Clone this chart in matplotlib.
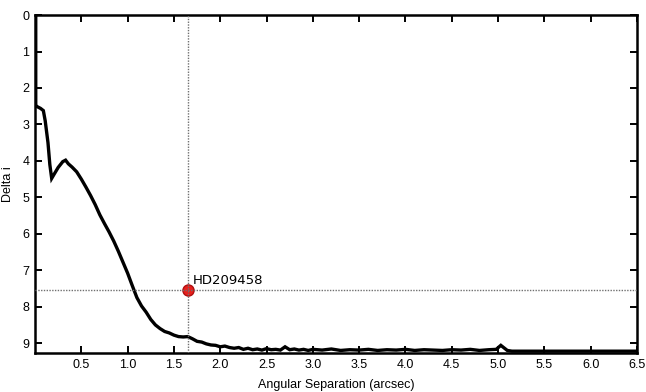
import matplotlib
matplotlib.use("Agg")
import matplotlib.pyplot as plt
import numpy as np

plt.rcParams['font.family'] = ['Liberation Sans', 'DejaVu Sans']

# contrast curve
sep = [0.008, 0.008, 0.012, 0.03, 0.06, 0.09, 0.11, 0.14, 0.16, 0.18, 0.21, 0.25,
       0.3, 0.33, 0.36, 0.4, 0.45, 0.5, 0.55, 0.6, 0.65, 0.7, 0.75, 0.8, 0.85,
       0.9, 0.95, 1.0, 1.05, 1.1, 1.15, 1.2, 1.25, 1.3, 1.35, 1.4, 1.45, 1.5,
       1.55, 1.6, 1.65, 1.7, 1.75, 1.8, 1.85, 1.9, 1.95, 2.0, 2.05, 2.1, 2.15,
       2.2, 2.25, 2.3, 2.35, 2.4, 2.45, 2.5, 2.55, 2.6, 2.65, 2.7, 2.75, 2.8,
       2.85, 2.9, 2.95, 3.0, 3.1, 3.2, 3.3, 3.4, 3.5, 3.6, 3.7, 3.8, 3.9, 4.0,
       4.1, 4.2, 4.3, 4.4, 4.5, 4.6, 4.7, 4.8, 4.9, 4.98, 5.03, 5.06, 5.1,
       5.15, 5.5, 6.0, 6.5]
delta = [0.0, 2.45, 2.5, 2.52, 2.56, 2.62, 2.9, 3.5, 4.1, 4.48, 4.35, 4.18,
         4.02, 3.98, 4.08, 4.17, 4.3, 4.5, 4.72, 4.95, 5.2, 5.48, 5.72, 5.95, 6.2,
         6.48, 6.78, 7.08, 7.42, 7.75, 7.98, 8.15, 8.35, 8.5, 8.6, 8.68, 8.72, 8.78,
         8.82, 8.83, 8.82, 8.88, 8.95, 8.97, 9.02, 9.05, 9.06, 9.1, 9.08, 9.12, 9.14,
         9.12, 9.17, 9.14, 9.18, 9.16, 9.19, 9.15, 9.18, 9.17, 9.19, 9.1, 9.18, 9.16,
         9.19, 9.17, 9.2, 9.17, 9.19, 9.16, 9.2, 9.18, 9.19, 9.17, 9.2, 9.18, 9.19, 9.17,
         9.2, 9.18, 9.19, 9.2, 9.18, 9.19, 9.17, 9.2, 9.18, 9.17, 9.06, 9.12, 9.2,
         9.22, 9.22, 9.22, 9.22]

star_sep = 1.65
star_delta = 7.55
star_name = "HD209458"

fig = plt.figure(figsize=(6.46, 3.92), dpi=100)
ax = fig.add_axes([0.0542, 0.0995, 0.9318, 0.862])

ax.plot(sep, delta, color='black', linewidth=2.4, solid_joinstyle='miter', zorder=3)

ax.plot(star_sep, star_delta, 'o', color='#e8201c', markeredgecolor='#b01010',
        markersize=8, zorder=4)
ax.axvline(star_sep, color='#707070', linestyle=(0, (1, 1)), linewidth=1, zorder=5)
ax.axhline(star_delta, color='#707070', linestyle=(0, (1, 1)), linewidth=1, zorder=5)
ax.text(star_sep + 0.05, star_delta - 0.08, star_name, fontsize=9.5,
        family='DejaVu Sans', va='bottom', ha='left')

ax.set_xlim(0, 6.5)
ax.set_ylim(9.27, 0)
ax.set_xticks(np.arange(0.5, 6.51, 0.5))
ax.set_xticklabels(["%.1f" % v for v in np.arange(0.5, 6.51, 0.5)])
ax.set_yticks(range(10))
ax.tick_params(direction='in', length=5, width=1.4, top=True, right=True,
               labelsize=9, pad=4)

for s in ax.spines.values():
    s.set_linewidth(1.8)

ax.set_xlabel("Angular Separation (arcsec)", fontsize=9, labelpad=6)
ax.set_ylabel("Delta i", fontsize=9, labelpad=6)

fig.savefig("out.png", dpi=100)
